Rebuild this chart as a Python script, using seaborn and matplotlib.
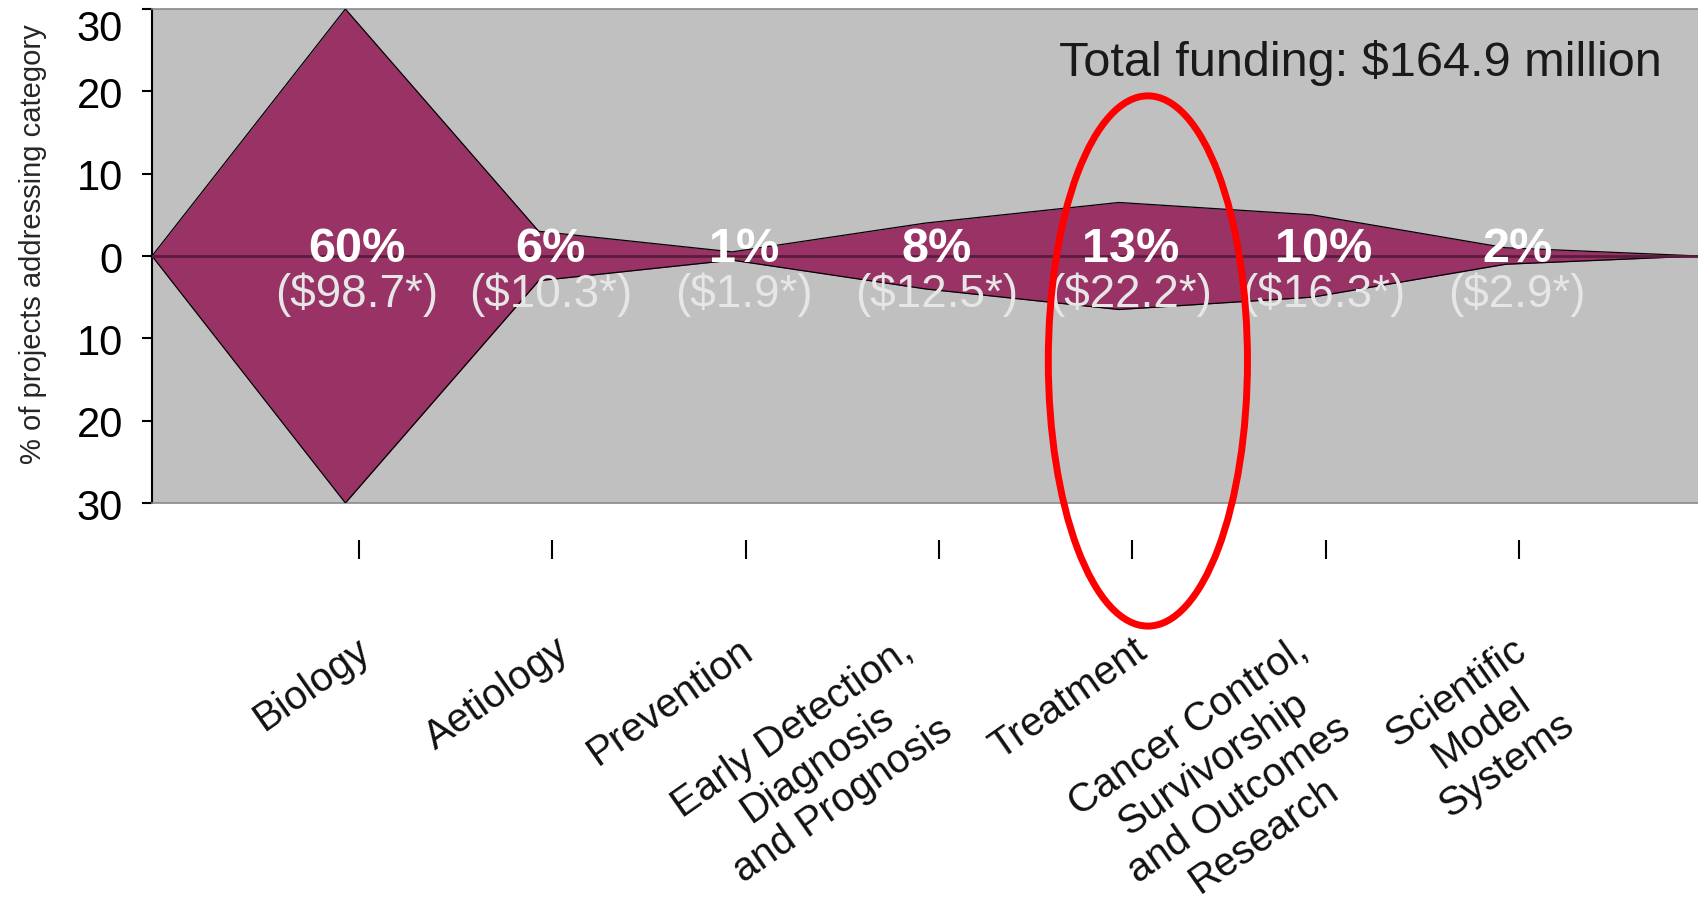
import numpy as np
import pandas as pd
import seaborn as sns
import matplotlib.pyplot as plt
import matplotlib.transforms as mtransforms
from matplotlib.patches import Ellipse

# data
categories = ["Biology", "Aetiology", "Prevention",
              "Early Detection,\nDiagnosis\nand Prognosis", "Treatment",
              "Cancer Control,\nSurvivorship\nand Outcomes\nResearch",
              "Scientific\nModel\nSystems"]
pct_projects = [60, 6, 1, 8, 13, 10, 2]
funding_musd = [98.7, 10.3, 1.9, 12.5, 22.2, 16.3, 2.9]
total_funding = 164.9
yticks = [-30, -20, -10, 0, 10, 20, 30]

# layout only: horizontal nudge (pixels) of each rotated category label
label_dx = [-4, 2, -8, -41, -1, -33, -8]

sns.set_style("white")
plt.rcParams['font.family'] = ['Liberation Sans', 'DejaVu Sans']

pos = np.arange(1, len(categories) + 1)
n = len(categories)
# mirrored area, closed at both ends of the axis
shape = pd.DataFrame({
    "pos": np.concatenate([[0], pos, [n + 1]]),
    "half": np.concatenate([[0], np.array(pct_projects) / 2.0, [0]]),
})
shape["lower"] = -shape["half"]

W, H = 1699, 912
fig = plt.figure(figsize=(W / 100, H / 100), dpi=100)
left, top, bottom = 152, 10, 504
ax = fig.add_axes([left / W, 1 - bottom / H, 1 - left / W, (bottom - top) / H])
ax.set_facecolor("#c0c0c0")

ax.fill_between(shape["pos"], shape["lower"], shape["half"], color="#993366", lw=0, zorder=2)
sns.lineplot(data=shape, x="pos", y="half", color="black", lw=0.9, ax=ax, zorder=3)
sns.lineplot(data=shape, x="pos", y="lower", color="black", lw=0.9, ax=ax, zorder=3)
ax.axhline(0, color="#5a1c3c", lw=2, zorder=3)

for x, p, f in zip(pos, pct_projects, funding_musd):
    ax.text(x + 0.06, -0.6, f"{p}%", ha="center", va="baseline", color="white",
            fontsize=35, fontweight="bold", zorder=4)
    ax.text(x + 0.06, -4.6, f"(${f}*)", ha="center", va="center", color="#e6e6e6",
            fontsize=33, zorder=4)

ax.text(6.25, 23.6, f"Total funding: ${total_funding} million", ha="center", va="center",
        fontsize=35, color="#1a1a1a")

ax.set_xlim(0, n + 1)
ax.set_ylim(-30, 30)
ax.set_xticks([])
ax.set_yticks(yticks)
ax.set_yticklabels([str(abs(v)) for v in yticks])
ax.tick_params(axis="y", direction="out", length=7, width=1.5, pad=14, labelsize=30,
               left=True, colors="black")
ax.get_yticklabels()[-1].set_va("top")
ax.set_xlabel("")
ax.set_ylabel("% of projects addressing category", fontsize=21)
ax.yaxis.set_label_coords(-0.068, 0.526)
for s in ["top", "right", "bottom"]:
    ax.spines[s].set_color("#8a8a8a")
    ax.spines[s].set_linewidth(1.2)
ax.spines["left"].set_color("black")
ax.spines["left"].set_linewidth(1.5)

# highlight around Treatment
ell = Ellipse((5.15, -12.75), width=1.03, height=64.4, transform=ax.transData,
              fill=False, edgecolor="#ff0000", lw=5, clip_on=False, zorder=6)
ax.add_patch(ell)

# detached category ticks and labels below the plot
ax2 = fig.add_axes([left / W, 1 - 560 / H, 1 - left / W, 0.001])
ax2.patch.set_visible(False)
ax2.set_xlim(-0.07, n + 0.93)
for s in ax2.spines.values():
    s.set_visible(False)
ax2.set_yticks([])
ax2.set_xticks(pos)
ax2.set_xticklabels(categories)
ax2.tick_params(axis="x", bottom=True, direction="in", length=14, width=1.5, pad=51,
                labelsize=29, colors="black")
for lab, dx in zip(ax2.get_xticklabels(), label_dx):
    lab.set_rotation(35)
    lab.set_rotation_mode("anchor")
    lab.set_ha("right")
    lab.set_va("top")
    lab.set_multialignment("center")
    lab.set_color("#111111")
    lab.set_transform(lab.get_transform()
                      + mtransforms.ScaledTranslation(dx / 100, 0, fig.dpi_scale_trans))

plt.savefig("out.png", dpi=100)
